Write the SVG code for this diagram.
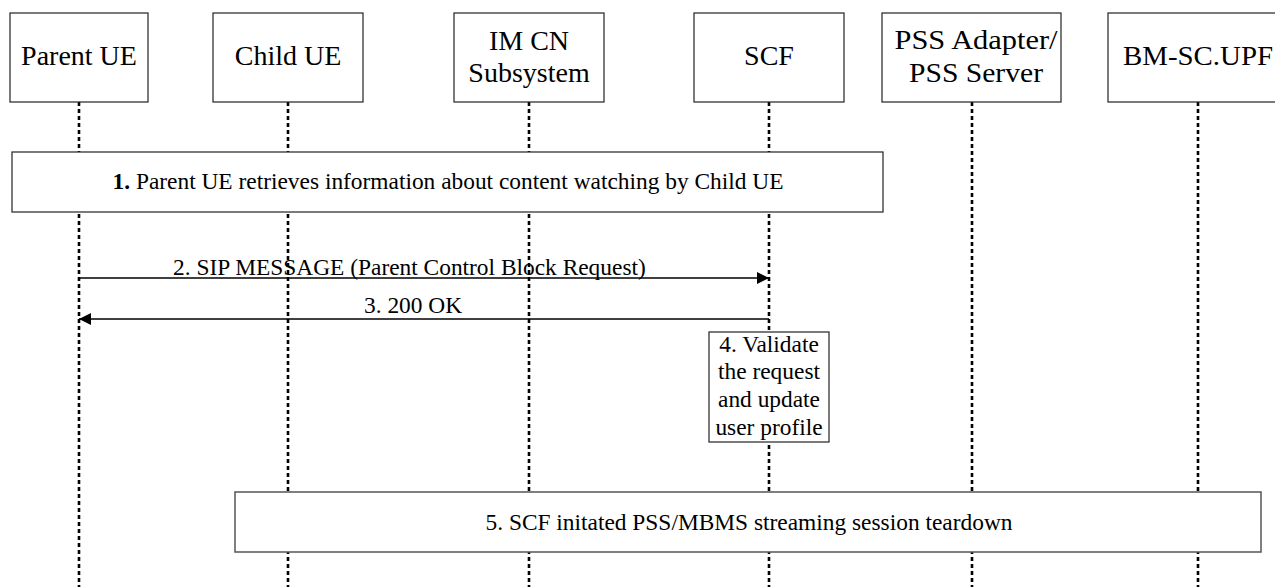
<svg xmlns="http://www.w3.org/2000/svg" width="1275" height="587" viewBox="0 0 1275 587">
<style>
.box{fill:#fff;stroke:#222;stroke-width:1.2}
.life{stroke:#000;stroke-width:2.6;stroke-dasharray:4 3;fill:none}
.msg{stroke:#000;stroke-width:1.3;fill:none}
.hd{font-family:"Liberation Serif","Times New Roman",serif;font-size:28px;fill:#000;text-anchor:middle}
.tx{font-family:"Liberation Serif","Times New Roman",serif;font-size:23.4px;fill:#000}
.c{text-anchor:middle}
</style>
<defs>
<marker id="ah" viewBox="0 0 12 12" refX="12" refY="6" markerWidth="12" markerHeight="12" markerUnits="userSpaceOnUse" orient="auto">
<path d="M0,0 L12,6 L0,12 Z" fill="#000"/>
</marker>
</defs>
<rect width="1275" height="587" fill="#fff"/>
<g id="lifelines">
<line class="life" x1="79" y1="102" x2="79" y2="587"/>
<line class="life" x1="288" y1="102" x2="288" y2="587"/>
<line class="life" x1="529" y1="102" x2="529" y2="587"/>
<line class="life" x1="769" y1="102" x2="769" y2="587"/>
<line class="life" x1="972" y1="102" x2="972" y2="587"/>
<line class="life" x1="1198" y1="102" x2="1198" y2="587"/>
</g>
<g id="parent-ue">
<rect class="box" x="10" y="13" width="138" height="89"/>
<text class="hd" x="79" y="65">Parent UE</text>
</g>
<g id="child-ue">
<rect class="box" x="213" y="13" width="150" height="89"/>
<text class="hd" x="288" y="65">Child UE</text>
</g>
<g id="im-cn">
<rect class="box" x="454" y="13" width="150" height="89"/>
<text class="hd" x="529" y="50">IM CN</text>
<text class="hd" x="529" y="82">Subsystem</text>
</g>
<g id="scf">
<rect class="box" x="694" y="13" width="150" height="89"/>
<text class="hd" x="769" y="65">SCF</text>
</g>
<g id="pss">
<rect class="box" x="882" y="13" width="179" height="89"/>
<text class="hd" x="976" y="49" textLength="163" lengthAdjust="spacingAndGlyphs">PSS Adapter/</text>
<text class="hd" x="976" y="82" textLength="134" lengthAdjust="spacingAndGlyphs">PSS Server</text>
</g>
<g id="bmsc">
<rect class="box" x="1108" y="13" width="182" height="89"/>
<text class="hd" x="1198" y="65" textLength="150" lengthAdjust="spacingAndGlyphs">BM-SC.UPF</text>
</g>
<g id="step1">
<rect class="box" x="12" y="152" width="871" height="60"/>
<text class="tx c" x="448" y="189"><tspan font-weight="bold">1.</tspan> Parent UE retrieves information about content watching by Child UE</text>
</g>
<g id="connectors">
<line class="msg" x1="79" y1="278" x2="769" y2="278" marker-end="url(#ah)"/>
<line class="msg" x1="769" y1="319" x2="79" y2="319" marker-end="url(#ah)"/>
<text class="tx" x="173" y="275">2. SIP MESSAGE (Parent Control Block Request)</text>
<text class="tx" x="364" y="313">3. 200 OK</text>
</g>
<g id="step4">
<rect class="box" x="709" y="332" width="120" height="110"/>
<text class="tx c" x="769" y="352">4. Validate</text>
<text class="tx c" x="769" y="379">the request</text>
<text class="tx c" x="769" y="407">and update</text>
<text class="tx c" x="769" y="435">user profile</text>
</g>
<g id="step5">
<rect class="box" x="235" y="492" width="1026" height="60" style="stroke:#555;stroke-width:1.5"/>
<text class="tx c" x="749" y="530">5. SCF initated PSS/MBMS streaming session teardown</text>
</g>
</svg>
